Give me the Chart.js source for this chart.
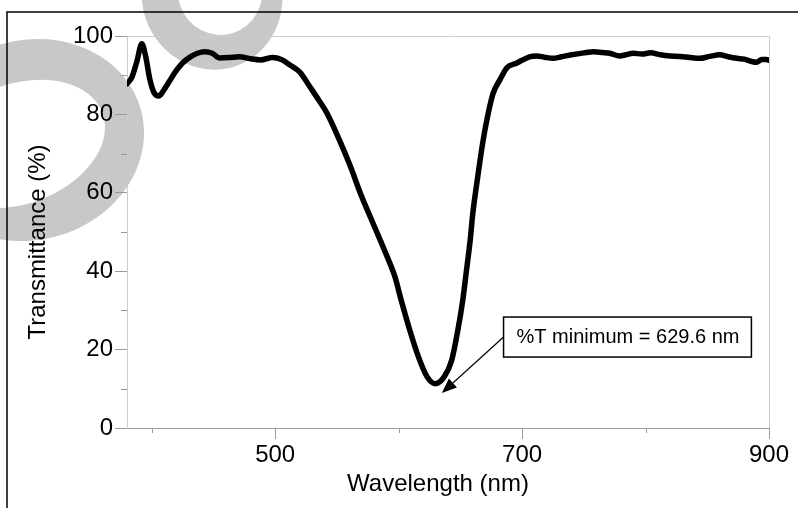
<!DOCTYPE html>
<html>
<head>
<meta charset="utf-8">
<script src="https://cdn.jsdelivr.net/npm/chart.js@4.4.1/dist/chart.umd.min.js"></script>
<style>
  html, body { margin: 0; padding: 0; background: #fff; }
  #wrap { width: 798px; height: 508px; }
</style>
</head>
<body>
<div id="wrap"><canvas id="specChart"></canvas></div>
<script>
// values
const wavelength = [380, 384, 388, 392, 395, 398.6, 402, 406, 410, 415, 420, 425, 431, 437, 443, 449, 455, 463, 471, 480, 488, 498, 505, 512, 520, 528, 535, 542, 552, 561, 569, 577, 585, 591, 597, 602, 609, 616, 623, 629.6, 637, 643, 648, 652, 655, 658, 660, 664.5, 668.5, 672.6, 676.6, 682, 688, 695, 700, 706, 712, 718, 725, 732, 740, 750, 758, 765, 771, 779, 784, 790, 797, 804, 812, 820, 828, 836, 844, 852, 860, 867, 874, 880, 886, 890, 894, 898, 900];
const transmittance = [87.8, 89.5, 93.5, 98.0, 95.0, 88.8, 85.5, 84.7, 86.3, 88.8, 91.2, 93.1, 94.6, 95.6, 96.0, 95.6, 94.4, 94.5, 94.7, 94.2, 93.9, 94.5, 94.0, 92.6, 90.8, 87.1, 83.8, 80.3, 73.5, 66.7, 59.9, 53.9, 48.0, 43.5, 38.6, 32.7, 25.0, 18.2, 13.1, 11.3, 13.1, 17.3, 25.0, 32.7, 40.3, 48.0, 54.5, 65.0, 73.5, 80.3, 85.4, 88.8, 92.0, 93.0, 93.8, 94.7, 94.9, 94.6, 94.3, 94.7, 95.2, 95.7, 96.0, 95.8, 95.6, 94.9, 95.2, 95.6, 95.4, 95.7, 95.2, 94.9, 94.8, 94.5, 94.3, 94.8, 95.2, 94.7, 94.3, 94.1, 93.5, 93.3, 94.0, 94.0, 93.8];

const xTicks = [400, 500, 600, 700, 800, 900];
const xLabels = [500, 700, 900];
const yTicks = [0, 10, 20, 30, 40, 50, 60, 70, 80, 90, 100];
const yLabels = [0, 20, 40, 60, 80, 100];

// callout: box anchored at (boxX, boxY), arrow pointing at (tipX, tipY)
const minNote = { text: '%T minimum = 629.6 nm', boxX: 685, boxY: 23.2, tipX: 635, tipY: 8.9 };

const FONT = '"Liberation Sans", Arial, sans-serif';
const NB = '\u00a0\u00a0\u00a0'; // nudges the centred axis titles

const backdrop = {
    id: 'backdrop',
    beforeDraw(chart) {
        const c = chart.ctx;
        c.save();
        c.fillStyle = '#fff';
        c.fillRect(0, 0, chart.width, chart.height);
        // grey watermark rings (outer shape minus hole)
        c.fillStyle = '#c8c8c8';
        c.beginPath();
        c.ellipse(30, 140, 115, 100, -Math.PI / 12, 0, Math.PI * 2);
        c.ellipse(18, 144, 90, 60, -Math.PI / 9, 0, Math.PI * 2);
        c.fill('evenodd');
        c.beginPath();
        c.ellipse(212, -4, 70, 74, -Math.PI / 10, 0, Math.PI * 2);
        c.ellipse(220, -8, 42, 43, -Math.PI / 10, 0, Math.PI * 2);
        c.fill('evenodd');
        // outer frame
        c.strokeStyle = '#000';
        c.lineWidth = 1.5;
        c.beginPath();
        c.moveTo(7, chart.height + 2);
        c.lineTo(7, 12);
        c.lineTo(chart.width + 2, 12);
        c.stroke();
        c.restore();
    },
    beforeDatasetsDraw(chart) {
        const c = chart.ctx, a = chart.chartArea;
        c.save();
        c.strokeStyle = '#cccccc';
        c.lineWidth = 1;
        c.beginPath();
        c.moveTo(a.left, a.top + 0.5);
        c.lineTo(a.right + 0.5, a.top + 0.5);
        c.lineTo(a.right + 0.5, a.bottom);
        c.stroke();
        // short minor ticks
        const xs = chart.scales.x, ys = chart.scales.y;
        c.strokeStyle = '#999';
        c.beginPath();
        xTicks.filter(v => !xLabels.includes(v)).forEach(v => {
            const px = Math.round(xs.getPixelForValue(v)) + 0.5;
            c.moveTo(px, a.bottom);
            c.lineTo(px, a.bottom + 5);
        });
        yTicks.filter(v => !yLabels.includes(v)).forEach(v => {
            const py = Math.round(ys.getPixelForValue(v)) + 0.5;
            c.moveTo(a.left - 6, py);
            c.lineTo(a.left, py);
        });
        c.stroke();
        c.restore();
    },
    afterDraw(chart) {
        const c = chart.ctx;
        const xs = chart.scales.x, ys = chart.scales.y;
        c.save();
        c.font = '20px ' + FONT;
        const w = c.measureText(minNote.text).width + 25;
        const h = 40;
        const bx = xs.getPixelForValue(minNote.boxX);
        const by = ys.getPixelForValue(minNote.boxY);
        const tx = xs.getPixelForValue(minNote.tipX);
        const ty = ys.getPixelForValue(minNote.tipY);
        c.fillStyle = '#fff';
        c.fillRect(bx, by - h / 2, w, h);
        c.strokeStyle = '#000';
        c.lineWidth = 1.5;
        c.strokeRect(bx, by - h / 2, w, h);
        c.fillStyle = '#000';
        c.textBaseline = 'middle';
        c.fillText(minNote.text, bx + 13, by);
        // arrow
        const ang = Math.atan2(ty - by, tx - bx);
        const hl = 15, hw = 6;
        c.lineWidth = 1.2;
        c.beginPath();
        c.moveTo(bx, by);
        c.lineTo(tx - Math.cos(ang) * hl * 0.8, ty - Math.sin(ang) * hl * 0.8);
        c.stroke();
        c.beginPath();
        c.moveTo(tx, ty);
        c.lineTo(tx - Math.cos(ang) * hl + Math.sin(ang) * hw, ty - Math.sin(ang) * hl - Math.cos(ang) * hw);
        c.lineTo(tx - Math.cos(ang) * hl - Math.sin(ang) * hw, ty - Math.sin(ang) * hl + Math.cos(ang) * hw);
        c.closePath();
        c.fill();
        c.restore();
    }
};

const ctx = document.getElementById('specChart').getContext('2d');

const liveChart = new Chart(ctx, {
    type: 'line',
    data: {
        datasets: [{
            label: 'Transmittance',
            data: wavelength.map((w, i) => ({ x: w, y: transmittance[i] })),
            borderColor: '#000',
            borderWidth: 5.5,
            borderCapStyle: 'round',
            borderJoinStyle: 'round',
            cubicInterpolationMode: 'monotone',
            pointRadius: 0,
            fill: false
        }]
    },
    options: {
        responsive: true,
        maintainAspectRatio: false,
        animation: false,
        layout: { padding: { left: 0, top: 36, right: 29, bottom: 0 } },
        plugins: {
            legend: { display: false },
            tooltip: { enabled: false }
        },
        scales: {
            x: {
                type: 'linear',
                min: 380,
                max: 900,
                afterBuildTicks: axis => { axis.ticks = xTicks.map(v => ({ value: v })); },
                afterFit: axis => { axis.height = 80; },
                grid: {
                    drawOnChartArea: false,
                    tickLength: 11,
                    tickColor: c => xLabels.includes(c.tick && c.tick.value) ? '#999' : 'rgba(0,0,0,0)'
                },
                border: { display: true, color: '#999', width: 1 },
                ticks: {
                    autoSkip: false,
                    maxRotation: 0,
                    padding: 2,
                    color: '#000',
                    font: { family: FONT, size: 24 },
                    callback: v => xLabels.includes(v) ? String(v) : ''
                },
                title: {
                    display: true,
                    text: 'Wavelength (nm)' + NB,
                    color: '#000',
                    font: { family: FONT, size: 24 },
                    padding: { top: 0, bottom: 9 }
                }
            },
            y: {
                type: 'linear',
                min: 0,
                max: 100,
                afterBuildTicks: axis => { axis.ticks = yTicks.map(v => ({ value: v })); },
                afterFit: axis => { axis.width = 127; },
                grid: {
                    drawOnChartArea: false,
                    tickLength: 12,
                    tickColor: c => yLabels.includes(c.tick && c.tick.value) ? '#999' : 'rgba(0,0,0,0)'
                },
                border: { display: true, color: '#cccccc', width: 1 },
                ticks: {
                    autoSkip: false,
                    padding: 2,
                    color: '#000',
                    font: { family: FONT, size: 24 },
                    callback: v => yLabels.includes(v) ? String(v) : ''
                },
                title: {
                    display: true,
                    text: 'Transmittance (%)' + NB,
                    color: '#000',
                    font: { family: FONT, size: 24 },
                    padding: { top: 24, bottom: 0 }
                }
            }
        }
    },
    plugins: [backdrop]
});
</script>
</body>
</html>
